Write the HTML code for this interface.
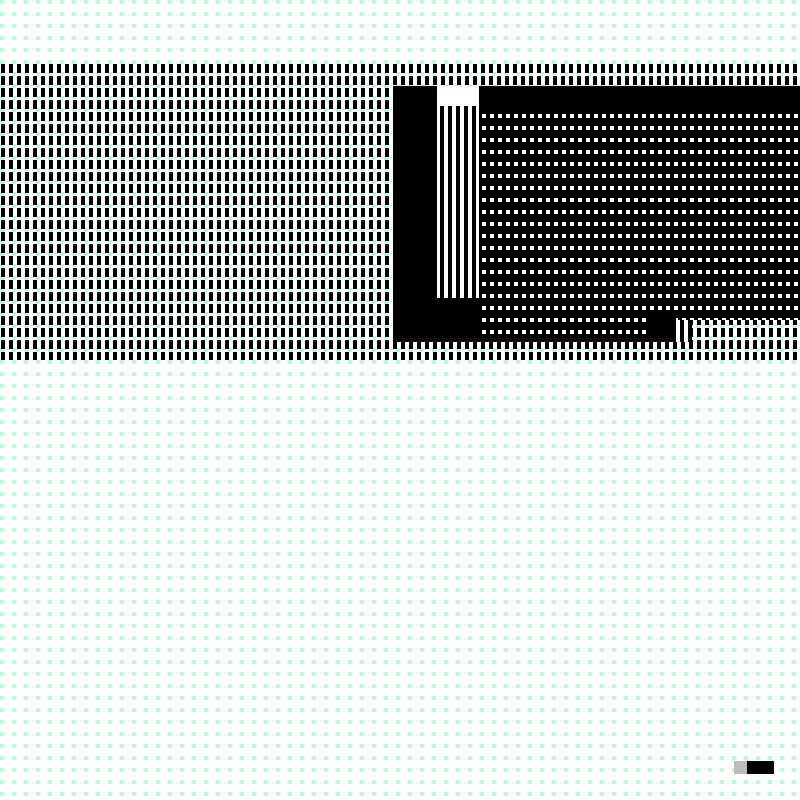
<!DOCTYPE html>
<html><head><style>
html,body{margin:0;padding:0}
body{width:800px;height:800px;position:relative;overflow:hidden;background:#fff}
div{position:absolute}
</style></head><body>
<svg width="800" height="800" style="position:absolute;left:0;top:0">
  <defs>
    <pattern id="g" width="12" height="12" patternUnits="userSpaceOnUse" x="0" y="0"><rect x="0" y="0" width="4" height="4" fill="#b8ffd0"/></pattern>
    <pattern id="d" width="8" height="12" patternUnits="userSpaceOnUse" y="64"><rect x="1" y="0" width="4" height="9" fill="#000"/></pattern>
    <pattern id="v" width="8" height="12" patternUnits="userSpaceOnUse"><rect x="0" y="0" width="4" height="12" fill="#000"/></pattern>
    <pattern id="h" width="8" height="12" patternUnits="userSpaceOnUse" x="479" y="86"><rect width="8" height="12" fill="#000"/><rect x="3" y="4" width="4" height="4" fill="#fff"/></pattern>
  </defs>
  <rect width="800" height="800" fill="url(#g)"/>
  <rect x="0" y="64" width="800" height="296" fill="url(#d)"/>
  <rect x="393" y="86" width="86" height="256" fill="#000"/>
  <rect x="437" y="86" width="42" height="20" fill="#fff"/>
  <rect x="437" y="106" width="42" height="192" fill="#fff"/>
  <rect x="437" y="106" width="42" height="192" fill="url(#v)"/>
  <rect x="479" y="86" width="321" height="234" fill="url(#h)"/>
  <rect x="479" y="86" width="321" height="20" fill="#000"/>
  <rect x="479" y="320" width="169" height="22" fill="url(#h)"/>
  <rect x="648" y="318" width="28" height="24" fill="#000"/>
  <rect x="676" y="320" width="16" height="22" fill="#fff"/>
  <rect x="676" y="320" width="16" height="22" fill="url(#v)"/>
  <rect x="734" y="761" width="13" height="13" fill="#bbb"/>
  <rect x="747" y="761" width="27" height="13" fill="#000"/>
</svg>
</body></html>
